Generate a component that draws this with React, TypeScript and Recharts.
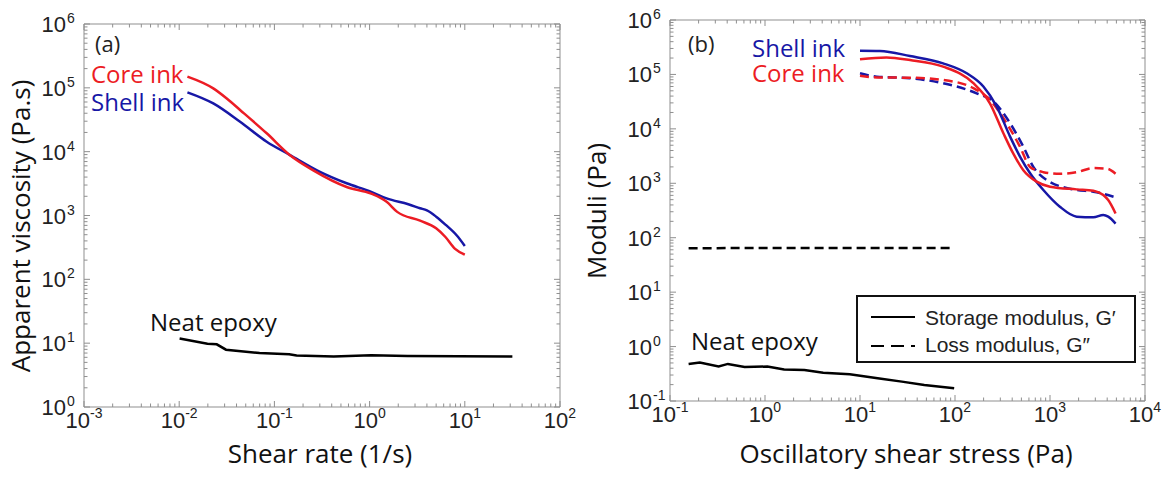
import { LineChart, Line, XAxis, YAxis } from 'recharts';

const RED = '#ec1c24';
const BLUE = '#1717a6';
const FRAME = '#8f8f8f';
const TICK_FONT = '"Liberation Sans", Arial, sans-serif';
const TEXT_FONT = '"Open Sans", sans-serif';

// (a) apparent viscosity vs shear rate
const rateDecades = [1e-3, 1e-2, 1e-1, 1, 10, 100];
const viscDecades = [1, 10, 100, 1e3, 1e4, 1e5, 1e6];

const coreViscosity = [
  { x: 0.0122, y: 1.5e5 }, { x: 0.0228, y: 9.8e4 }, { x: 0.0316, y: 6.8e4 },
  { x: 0.0436, y: 4.5e4 }, { x: 0.083, y: 1.94e4 }, { x: 0.146, y: 8.8e3 },
  { x: 0.256, y: 5.1e3 }, { x: 0.574, y: 2.8e3 }, { x: 1.04, y: 2.2e3 },
  { x: 1.51, y: 1.64e3 }, { x: 1.95, y: 1.14e3 }, { x: 3.39, y: 830 },
  { x: 5.0, y: 630 }, { x: 6.26, y: 460 }, { x: 7.85, y: 303 }, { x: 10, y: 244 },
];

const shellViscosity = [
  { x: 0.0122, y: 8.5e4 }, { x: 0.0228, y: 5.7e4 }, { x: 0.0436, y: 2.94e4 },
  { x: 0.083, y: 1.43e4 }, { x: 0.146, y: 8.85e3 }, { x: 0.301, y: 4.84e3 },
  { x: 0.574, y: 3.2e3 }, { x: 1.04, y: 2.35e3 }, { x: 1.51, y: 1.85e3 },
  { x: 2.55, y: 1.5e3 }, { x: 3.39, y: 1.3e3 }, { x: 4.0, y: 1.2e3 },
  { x: 5.0, y: 960 }, { x: 6.26, y: 720 }, { x: 8.2, y: 490 }, { x: 10, y: 334 },
];

const epoxyViscosity = [
  { x: 0.0101, y: 11.8 }, { x: 0.0198, y: 9.8 }, { x: 0.0248, y: 9.6 },
  { x: 0.031, y: 7.9 }, { x: 0.0698, y: 7.0 }, { x: 0.143, y: 6.7 },
  { x: 0.171, y: 6.4 }, { x: 0.42, y: 6.2 }, { x: 1.04, y: 6.45 },
  { x: 2.5, y: 6.3 }, { x: 31.6, y: 6.2 },
];

// (b) moduli vs oscillatory shear stress
const stressDecades = [0.1, 1, 10, 100, 1e3, 1e4];
const moduliDecades = [0.1, 1, 10, 100, 1e3, 1e4, 1e5, 1e6];

const shellStorage = [
  { x: 10, y: 2.73e5 }, { x: 16.2, y: 2.7e5 }, { x: 33.6, y: 2.18e5 },
  { x: 75, y: 1.6e5 }, { x: 133, y: 1.05e5 }, { x: 199, y: 6e4 },
  { x: 275, y: 2.57e4 }, { x: 380, y: 7.2e3 }, { x: 483, y: 3.1e3 },
  { x: 617, y: 1.53e3 }, { x: 851, y: 754 }, { x: 1270, y: 372 },
  { x: 1910, y: 244 }, { x: 2860, y: 238 }, { x: 3640, y: 262 },
  { x: 4100, y: 244 }, { x: 4900, y: 182 },
];

const coreStorage = [
  { x: 10, y: 1.9e5 }, { x: 19, y: 2.05e5 }, { x: 33.6, y: 1.84e5 },
  { x: 75, y: 1.39e5 }, { x: 156, y: 6.9e4 }, { x: 233, y: 2.95e4 },
  { x: 323, y: 8.3e3 }, { x: 411, y: 3.5e3 }, { x: 524, y: 1.74e3 },
  { x: 724, y: 1.07e3 }, { x: 1000, y: 865 }, { x: 1900, y: 773 },
  { x: 2860, y: 731 }, { x: 3640, y: 609 }, { x: 4100, y: 491 }, { x: 4900, y: 279 },
];

const shellLoss = [
  { x: 10, y: 1.05e5 }, { x: 15, y: 9.1e4 }, { x: 33.6, y: 8.5e4 },
  { x: 75, y: 6.9e4 }, { x: 169, y: 4.5e4 }, { x: 253, y: 3.2e4 },
  { x: 380, y: 1.27e4 }, { x: 524, y: 4.7e3 }, { x: 668, y: 2.0e3 },
  { x: 922, y: 1.15e3 }, { x: 1900, y: 754 }, { x: 2860, y: 701 }, { x: 4900, y: 550 },
];

const coreLoss = [
  { x: 10, y: 9.5e4 }, { x: 15, y: 8.8e4 }, { x: 33.6, y: 8.7e4 },
  { x: 75, y: 7.9e4 }, { x: 156, y: 5.6e4 }, { x: 233, y: 3.4e4 },
  { x: 350, y: 1.26e4 }, { x: 483, y: 4.7e3 }, { x: 617, y: 2.0e3 },
  { x: 851, y: 1.6e3 }, { x: 1270, y: 1.49e3 }, { x: 1910, y: 1.6e3 },
  { x: 2860, y: 1.9e3 }, { x: 3960, y: 1.86e3 }, { x: 4900, y: 1.5e3 },
];

const epoxyStorage = [
  { x: 0.157, y: 0.48 }, { x: 0.206, y: 0.51 }, { x: 0.325, y: 0.43 },
  { x: 0.407, y: 0.48 }, { x: 0.61, y: 0.42 }, { x: 1.06, y: 0.43 },
  { x: 1.59, y: 0.38 }, { x: 2.6, y: 0.37 }, { x: 4.1, y: 0.33 },
  { x: 7.8, y: 0.31 }, { x: 16, y: 0.26 }, { x: 27.6, y: 0.227 },
  { x: 47.5, y: 0.197 }, { x: 98, y: 0.171 },
];

const epoxyLoss = [
  { x: 0.157, y: 64 }, { x: 1, y: 65 }, { x: 10, y: 65 }, { x: 96, y: 65 },
];

// decade ticks plus 2..9 minor ticks in between
const withMinors = (decades: number[]) => {
  const out: number[] = [];
  decades.forEach((d, i) => {
    out.push(d);
    if (i < decades.length - 1) for (let k = 2; k <= 9; k++) out.push(d * k);
  });
  return out;
};

const isDecade = (v: number) => {
  const e = Math.log10(v);
  return Math.abs(e - Math.round(e)) < 1e-6;
};

// inward ticks, MATLAB style; labels only on the bottom / left axes
const makeTick = (side: 'bottom' | 'top' | 'left' | 'right') => (props: any) => {
  const { x, y, payload } = props;
  const v = payload.value;
  const major = isDecade(v);
  const len = major ? 6 : 3.5;
  const exp = String(Math.round(Math.log10(v)));
  let line;
  if (side === 'bottom') line = <line x1={x} x2={x} y1={y} y2={y - len} stroke={FRAME} />;
  else if (side === 'top') line = <line x1={x} x2={x} y1={y} y2={y + len} stroke={FRAME} />;
  else if (side === 'left') line = <line x1={x} x2={x + len} y1={y} y2={y} stroke={FRAME} />;
  else line = <line x1={x} x2={x - len} y1={y} y2={y} stroke={FRAME} />;
  return (
    <g>
      {line}
      {major && side === 'bottom' && (
        <text x={x} y={y + 21} textAnchor="middle" fontFamily={TICK_FONT} fontSize={22} fill="#222">
          <tspan>10</tspan>
          <tspan dy={-10} fontSize={14}>{exp}</tspan>
        </text>
      )}
      {major && side === 'left' && (
        <g fontFamily={TICK_FONT} fill="#222">
          <text x={x - 18} y={y + 8} textAnchor="end" fontSize={22}>10</text>
          <text x={x - 17} y={y - 1} fontSize={14}>{exp}</text>
        </g>
      )}
    </g>
  );
};

// axes need a non-zero size to be drawn, so each gets 1px (margins below are 1px smaller)
const Frame = ({ xDomain, yDomain, xTicks, yTicks }: any) => (
  <>
    <XAxis xAxisId="b" dataKey="x" type="number" scale="log" domain={xDomain} allowDataOverflow
      ticks={xTicks} interval={0} height={1} tickSize={0} tickMargin={0}
      axisLine={{ stroke: FRAME }} tickLine={false} tick={makeTick('bottom')} />
    <XAxis xAxisId="t" orientation="top" dataKey="x" type="number" scale="log" domain={xDomain} allowDataOverflow
      ticks={xTicks} interval={0} height={1} tickSize={0} tickMargin={0}
      axisLine={{ stroke: FRAME }} tickLine={false} tick={makeTick('top')} />
    <YAxis yAxisId="l" dataKey="y" type="number" scale="log" domain={yDomain} allowDataOverflow
      ticks={yTicks} interval={0} width={1} tickSize={0} tickMargin={0}
      axisLine={{ stroke: FRAME }} tickLine={false} tick={makeTick('left')} />
    <YAxis yAxisId="r" orientation="right" dataKey="y" type="number" scale="log" domain={yDomain} allowDataOverflow
      ticks={yTicks} interval={0} width={1} tickSize={0} tickMargin={0}
      axisLine={{ stroke: FRAME }} tickLine={false} tick={makeTick('right')} />
  </>
);

const curve = (data: any[], color: string, dashed = false, type: any = 'monotone') => (
  <Line xAxisId="b" yAxisId="l" data={data} dataKey="y" type={type} stroke={color}
    strokeWidth={2.5} strokeDasharray={dashed ? '9 5' : undefined}
    dot={false} activeDot={false} isAnimationActive={false} />
);

export default function App() {
  const rateTicks = withMinors(rateDecades);
  const viscTicks = withMinors(viscDecades);
  const stressTicks = withMinors(stressDecades);
  const moduliTicks = withMinors(moduliDecades);

  return (
    <div style={{ position: 'absolute', left: 0, top: 0, width: 1165, height: 477, background: '#fff' }}>
      <div style={{ position: 'absolute', left: 0, top: 0 }}>
        <LineChart width={580} height={477} margin={{ top: 23, right: 19, bottom: 69, left: 83 }}>
          {Frame({ xDomain: [1e-3, 1e2], yDomain: [1, 1e6], xTicks: rateTicks, yTicks: viscTicks })}
          {curve(epoxyViscosity, '#000', false, 'linear')}
          {curve(shellViscosity, BLUE)}
          {curve(coreViscosity, RED)}
        </LineChart>
      </div>
      <div style={{ position: 'absolute', left: 580, top: 0 }}>
        <LineChart width={585} height={477} margin={{ top: 19, right: 19, bottom: 75, left: 89 }}>
          {Frame({ xDomain: [0.1, 1e4], yDomain: [0.1, 1e6], xTicks: stressTicks, yTicks: moduliTicks })}
          {curve(epoxyLoss, '#000', true, 'linear')}
          {curve(epoxyStorage, '#000', false, 'linear')}
          {curve(shellLoss, BLUE, true)}
          {curve(coreLoss, RED, true)}
          {curve(shellStorage, BLUE)}
          {curve(coreStorage, RED)}
        </LineChart>
      </div>

      <svg width={1165} height={477} style={{ position: 'absolute', left: 0, top: 0, pointerEvents: 'none' }}>
        <g fontFamily={TEXT_FONT}>
          <text transform="translate(30,226) rotate(-90)" textAnchor="middle" fontSize={26} fill="#111">Apparent viscosity (Pa.s)</text>
          <text x={320} y={463} textAnchor="middle" fontSize={26} fill="#111">Shear rate (1/s)</text>
          <text transform="translate(606,211) rotate(-90)" textAnchor="middle" fontSize={26} fill="#111">Moduli (Pa)</text>
          <text x={906} y={463} textAnchor="middle" fontSize={26} fill="#111">Oscillatory shear stress (Pa)</text>

          <text x={95} y={52} fontSize={22} fill="#222">(a)</text>
          <text x={91} y={83} fontSize={24} fill={RED}>Core ink</text>
          <text x={91} y={111} fontSize={24} fill={BLUE}>Shell ink</text>
          <text x={150} y={331} fontSize={24} fill="#111">Neat epoxy</text>

          <text x={688} y={52} fontSize={22} fill="#222">(b)</text>
          <text x={752} y={57} fontSize={24} fill={BLUE}>Shell ink</text>
          <text x={752} y={82} fontSize={24} fill={RED}>Core ink</text>
          <text x={691} y={350} fontSize={24} fill="#111">Neat epoxy</text>
        </g>
        <g fontFamily={TICK_FONT} fontSize={21} fill="#222">
          <rect x={857} y={296} width={278} height={66} fill="#fff" stroke="#111" strokeWidth={2} />
          <line x1={871} x2={915} y1={317} y2={317} stroke="#000" strokeWidth={2} />
          <line x1={871} x2={915} y1={346} y2={346} stroke="#000" strokeWidth={2} strokeDasharray="13 7" />
          <text x={925} y={325}>Storage modulus, G′</text>
          <text x={925} y={352}>Loss modulus, G″</text>
        </g>
      </svg>
    </div>
  );
}
